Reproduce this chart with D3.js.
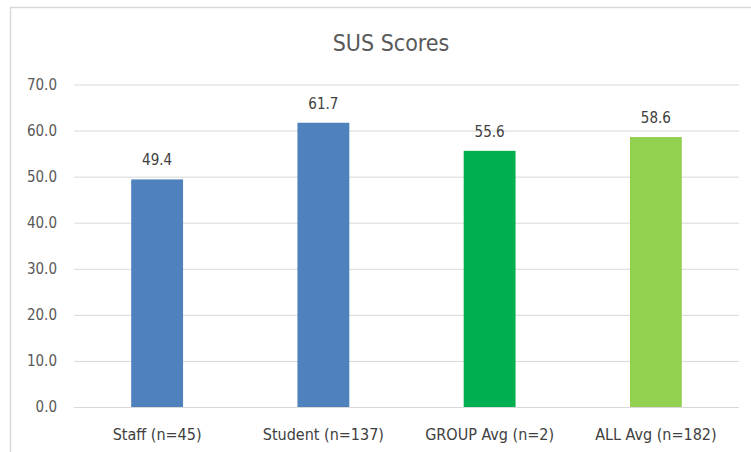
<!DOCTYPE html>
<html lang="en">
  <head>
    <meta charset="utf-8" />
    <title>SUS Scores</title>
    <script src="https://cdn.jsdelivr.net/npm/d3@7"></script>
    <style>
      body { margin: 0; background: #fff; }
      text { font-family: "Liberation Sans Narrow", "DejaVu Sans Condensed", "Roboto", sans-serif; }
    </style>
  </head>
  <body>
    <script>
      /*************************** Data ***************************/

      var categories = ["Staff (n=45)", "Student (n=137)", "GROUP Avg (n=2)", "ALL Avg (n=182)"];
      var scores = [49.4, 61.7, 55.6, 58.6];
      var barColors = ["#4F81BD", "#4F81BD", "#00B050", "#92D050"];
      var yTicks = [0, 10, 20, 30, 40, 50, 60, 70];

      /*************************** Canvas ***************************/

      var width = 751, height = 452;
      var svg = d3.select("body").append("svg")
        .attr("width", width)
        .attr("height", height);

      // chart frame (runs off the right/bottom of the picture)
      svg.append("path")
        .attr("d", "M10.5," + height + "V7.5H" + width)
        .attr("fill", "none")
        .attr("stroke", "#D9D9D9")
        .attr("stroke-width", 1.5);

      var plot = { left: 74, right: 739, top: 84.5, bottom: 407 };

      var x = d3.scaleBand()
        .domain(categories)
        .range([plot.left, plot.right])
        .paddingInner(0.688)
        .paddingOuter(0.344);

      var y = d3.scaleLinear()
        .domain([0, 70])
        .range([plot.bottom, plot.top]);

      /*************************** Axes ***************************/

      var yAxis = d3.axisLeft(y)
        .tickValues(yTicks)
        .tickSize(-(plot.right - plot.left))
        .tickPadding(17)
        .tickFormat(d3.format(".1f"));

      var gy = svg.append("g")
        .attr("transform", "translate(" + plot.left + ",0)")
        .call(yAxis);
      gy.select(".domain").remove();
      gy.selectAll(".tick line").attr("stroke", "#D9D9D9");
      gy.selectAll(".tick text")
        .attr("fill", "#595959")
        .style("font-size", "15px");

      var xAxis = d3.axisBottom(x).tickSize(0).tickPadding(22);
      var gx = svg.append("g")
        .attr("transform", "translate(0," + plot.bottom + ")")
        .call(xAxis);
      gx.select(".domain").remove();
      gx.selectAll(".tick text")
        .attr("fill", "#404040")
        .style("font-size", "16px");

      /*************************** Bars ***************************/

      svg.selectAll(".bar")
        .data(scores)
        .enter().append("rect")
        .attr("class", "bar")
        .attr("x", function (d, i) { return x(categories[i]); })
        .attr("width", x.bandwidth())
        .attr("y", function (d) { return y(d); })
        .attr("height", function (d) { return y(0) - y(d); })
        .attr("fill", function (d, i) { return barColors[i]; });

      svg.selectAll(".value")
        .data(scores)
        .enter().append("text")
        .attr("class", "value")
        .attr("x", function (d, i) { return x(categories[i]) + x.bandwidth() / 2; })
        .attr("y", function (d) { return y(d) - 14; })
        .attr("text-anchor", "middle")
        .attr("fill", "#404040")
        .style("font-size", "15px")
        .text(function (d) { return d3.format(".1f")(d); });

      /*************************** Title ***************************/

      svg.append("text")
        .attr("x", 391)
        .attr("y", 51)
        .attr("text-anchor", "middle")
        .attr("fill", "#595959")
        .style("font-size", "23px")
        .text("SUS Scores");
    </script>
  </body>
</html>
